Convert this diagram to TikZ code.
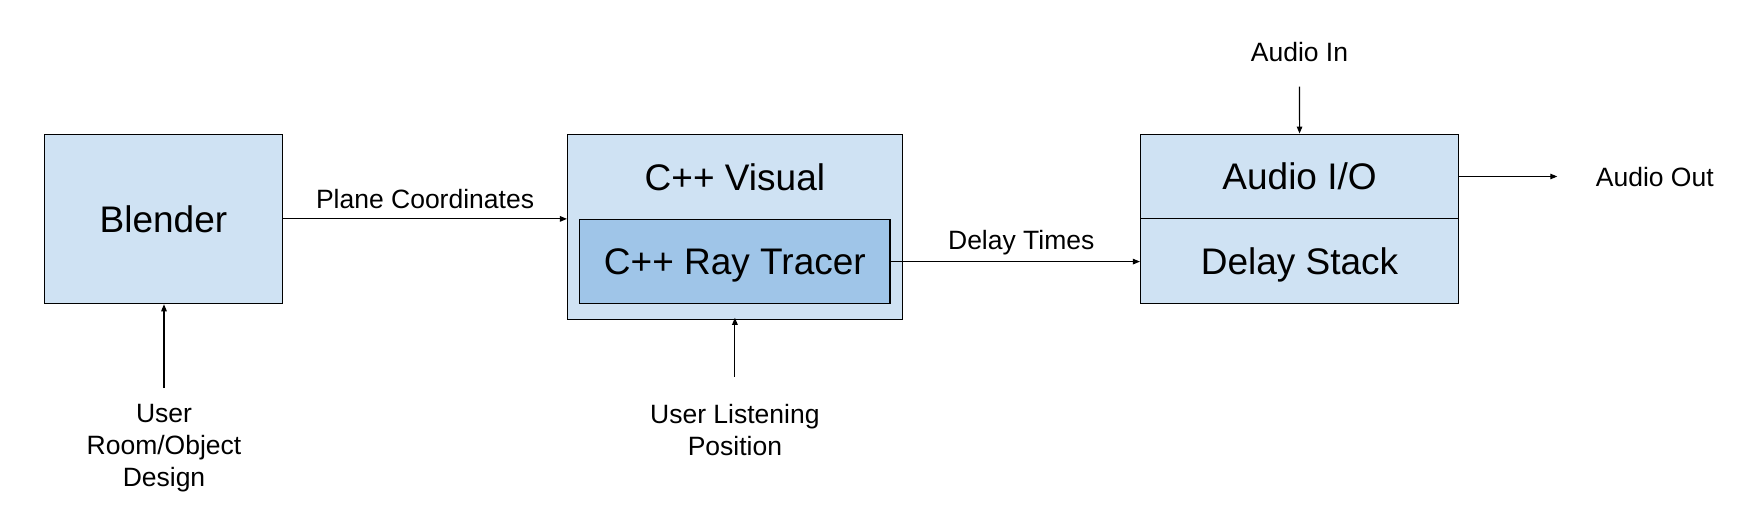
\documentclass[tikz,border=0pt]{standalone}
\usepackage{fontspec}
\setmainfont{Liberation Sans}
\usetikzlibrary{arrows.meta,calc}
\definecolor{lightblue}{HTML}{CFE2F3}
\definecolor{midblue}{HTML}{9FC5E8}
\begin{document}
\begin{tikzpicture}[x=1pt,y=-1pt,
  box/.style={draw=black,line width=1.1pt,fill=lightblue,inner sep=0pt,minimum width=#1},
  bigtext/.style={font=\fontsize{37}{44}\selectfont,text height=26.6pt,text depth=0pt,inner sep=0pt},
  smalltext/.style={font=\fontsize{26.5}{32.2}\selectfont,inner sep=0pt},
  onetext/.style={smalltext,text height=19.1pt,text depth=0pt},
  conn/.style={draw=black,line width=1.1pt,-{Triangle[length=7pt,width=5.5pt]}}
]
\useasboundingbox (0,0) rectangle (1738,522);
\fill[white] (0,0) rectangle (1738,522);

% Blender
\node[box=238.3pt,minimum height=169.6pt] (blender) at (163.45,218.9) {};
\node[bigtext] (blendertxt) at (blender.center) {Blender};

% C++ Visual with ray tracer inside
\node[box=334.7pt,minimum height=185.1pt] (visual) at (734.85,226.65) {};
\node[bigtext] (visualtxt) at (734.9,177.3) {C++ Visual};
\node[box=310.3pt,minimum height=84.2pt,fill=midblue] (raytracer) at (734.85,261.6) {};
\node[bigtext] (raytracertxt) at (raytracer.center) {C++ Ray Tracer};

% Audio block
\node[box=318.1pt,minimum height=84.8pt] (audioio) at (1299.55,176.5) {};
\node[bigtext] (audioiotxt) at (audioio.center) {Audio I/O};
\node[box=318.1pt,minimum height=84.8pt] (delaystack) at (1299.55,261.3) {};
\node[bigtext] (delaystacktxt) at (delaystack.center) {Delay Stack};

% outside labels
\node[onetext] (audioin) at (1299.5,52.1) {Audio In};
\node[onetext] (audioout) at (1654.8,177.3) {Audio Out};
\node[smalltext,align=center,anchor=north] (user) at (164,403.9) {User\\Room/Object\\Design};
\node[smalltext,align=center,anchor=north] (listen) at (734.9,403.9) {User Listening\\Position};

\coordinate (ainstart) at (1299.5,86.5);
\coordinate (aoutend) at (1557.3,176.5);
\coordinate (userstart) at (164,388);
\coordinate (listenstart) at (734.9,376.9);

% connectors
\draw[conn] (blender.east) -- node[onetext,above=9.5pt] (planelbl) {Plane Coordinates} (blender.east -| visual.west);
\draw[conn] (raytracer.east) -- node[onetext,above=12pt,xshift=6pt] (delaylbl) {Delay Times} (raytracer.east -| delaystack.west);
\draw[conn] (ainstart) -- (audioio.north);
\draw[conn] (audioio.east) -- (aoutend);
\draw[conn] (userstart) -- (userstart |- blender.south);
\draw[conn] (listenstart) -- ([yshift=2pt]listenstart |- visual.south);
\end{tikzpicture}
\end{document}
